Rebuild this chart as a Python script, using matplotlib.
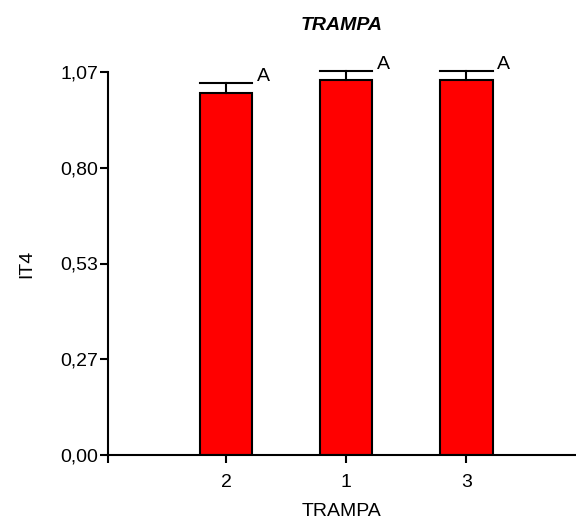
import numpy as np
import matplotlib.pyplot as plt

plt.rcParams['font.family'] = ['Liberation Sans', 'DejaVu Sans']

categories = ['2', '1', '3']
means = [1.012, 1.049, 1.049]
errors = [0.028, 0.024, 0.024]
letters = ['A', 'A', 'A']
y_ticks = [0.0, 0.2675, 0.535, 0.8025, 1.07]
y_tick_labels = ['0,00', '0,27', '0,53', '0,80', '1,07']

fs = 14

fig = plt.figure(figsize=(5.76, 5.27), dpi=100)
ax = fig.add_axes([0.1875, 0.1366, 0.81, 0.7268])

x = np.arange(len(categories))
bar_w = 0.435
ax.bar(x, means, width=bar_w, color='#ff0000', edgecolor='black', linewidth=1.5, zorder=2)
# upward-only error bars, caps as wide as the bars
for xi, m, e, lab in zip(x, means, errors, letters):
    ax.plot([xi, xi], [m, m + e], color='black', lw=1.5, zorder=3, clip_on=False)
    ax.plot([xi - bar_w / 2, xi + bar_w / 2], [m + e, m + e], color='black', lw=1.5,
            zorder=3, clip_on=False)
    ax.text(xi + bar_w / 2 + 0.04, m + e - 0.006, lab, fontsize=fs, ha='left', va='bottom')

ax.set_xlim(-0.983, 2.9)
ax.set_ylim(0, 1.07)
ax.set_xticks(x)
ax.set_xticklabels(categories)
ax.set_xticks([-0.983], minor=True)
ax.set_yticks(y_ticks)
ax.set_yticklabels(y_tick_labels)

ax.spines['top'].set_visible(False)
ax.spines['right'].set_visible(False)
ax.spines['left'].set_linewidth(1.5)
ax.spines['bottom'].set_linewidth(1.5)
ax.tick_params(axis='both', which='both', direction='out', length=6, width=1.5, labelsize=fs)
ax.tick_params(axis='x', which='minor', length=6, width=1.5)
ax.tick_params(axis='x', pad=8)
ax.tick_params(axis='y', pad=1)

ax.set_xlabel('TRAMPA', fontsize=fs, labelpad=8)
ax.set_ylabel('IT4', fontsize=fs, labelpad=18)
ax.set_title('TRAMPA', fontsize=fs, fontweight='bold', fontstyle='italic', pad=30)

fig.savefig('out.png', dpi=100)
